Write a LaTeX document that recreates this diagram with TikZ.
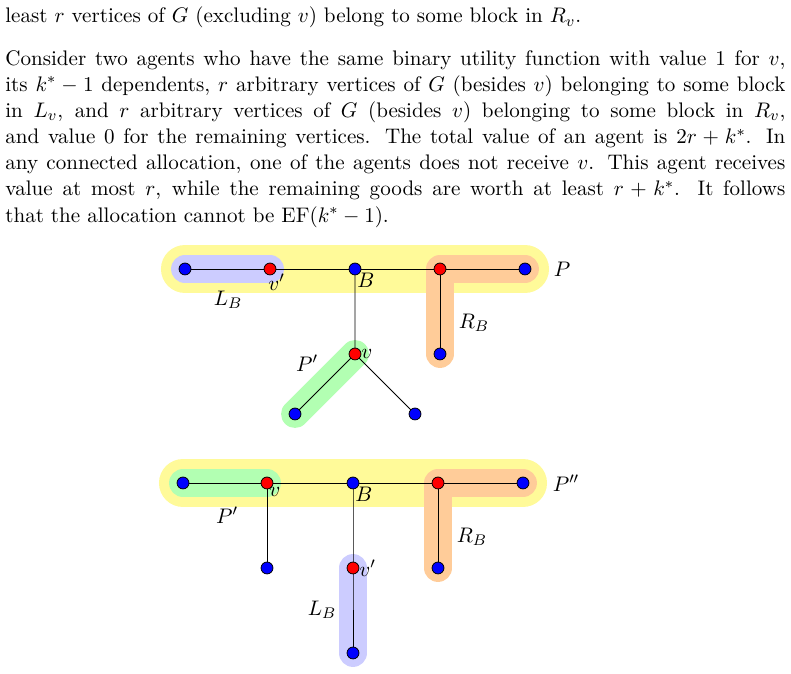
\documentclass[tikz,border=0pt,11pt]{standalone}
\usepackage{tikz}
\usetikzlibrary{positioning}

\tikzset{
  vred/.style={circle,draw=black,fill=red,inner sep=0pt,minimum size=6.2pt},
  vblue/.style={circle,draw=black,fill=blue,inner sep=0pt,minimum size=6.2pt},
  wide/.style={line width=25pt,line cap=round,line join=round},
  narrow/.style={line width=14.5pt,line cap=round,line join=round},
  lbl/.style={inner sep=1pt},
  txt/.style={inner sep=0pt,font=\fontsize{10.95pt}{13.6pt}\selectfont}
}

\begin{document}
\begin{tikzpicture}[x=0.52pt,y=-0.52pt]
\useasboundingbox (0,0) rectangle (791,674);
            % Text
\node[txt,anchor=base west] (l0) at (5,23) {least $r$ vertices of $G$ (excluding $v$) belong to some block in $R_v$.};
\node[txt,anchor=north west,text width=405.6pt,align=justify] (par) at (5,50)
{Consider two agents who have the same binary utility function with value 1 for $v$,\linebreak
its $k^*-1$ dependents, $r$ arbitrary vertices of $G$ (besides $v$) belonging to some block\linebreak
in $L_v$, and $r$ arbitrary vertices of $G$ (besides $v$) belonging to some block in $R_v$,\linebreak
and value 0 for the remaining vertices. The total value of an agent is $2r+k^*$. In\linebreak
any connected allocation, one of the agents does not receive $v$. This agent receives\linebreak
value at most $r$, while the remaining goods are worth at least $r+k^*$. It follows\linebreak
that the allocation cannot be EF$(k^*-1)$.};
            % Upper tree
\coordinate (a1) at (185,269);
\coordinate (a2) at (270,269);
\coordinate (a3) at (355,269);
\coordinate (a4) at (440,269);
\coordinate (a5) at (525,269);
\coordinate (a6) at (355,354);
\coordinate (a7) at (295,414);
\coordinate (a8) at (415,414);
\coordinate (a9) at (440,354);
%Blocks
\draw[wide,yellow!40] (a1) -- (a5);
\draw[narrow,blue!20] (a1) -- (a2);
\draw[narrow,orange!40] (a5) -- (a4) -- (a9);
\draw[narrow,green!30] (a6) -- (a7);
%Edges
\draw (a1) -- (a5);
\draw (a3) -- (a6) -- (a7);
\draw (a6) -- (a8);
\draw (a4) -- (a9);
%Vertices
\node[vblue] (u1) at (a1) {};
\node[vred]  (u2) at (a2) {};
\node[vblue] (u3) at (a3) {};
\node[vred]  (u4) at (a4) {};
\node[vblue] (u5) at (a5) {};
\node[vred]  (u6) at (a6) {};
\node[vblue] (u7) at (a7) {};
\node[vblue] (u8) at (a8) {};
\node[vblue] (u9) at (a9) {};
\node[lbl,anchor=north west] at (266,272) {$v'$};
\node[lbl,anchor=north west] at (355,271) {$B$};
\node[lbl,anchor=west] at (359,354) {$v$};
\node[lbl] at (228,300) {$L_B$};
\node[lbl] at (474,323) {$R_B$};
\node[lbl] at (562,269) {$P$};
\node[lbl] at (307,363) {$P'$};
            % Lower tree
\coordinate (b1) at (183,483);
\coordinate (b2) at (267,483);
\coordinate (b3) at (353,483);
\coordinate (b4) at (438,483);
\coordinate (b5) at (523,483);
\coordinate (b6) at (267,568);
\coordinate (b7) at (353,568);
\coordinate (b8) at (353,653);
\coordinate (b9) at (438,568);
%Blocks
\draw[wide,yellow!40] (b1) -- (b5);
\draw[narrow,green!30] (b1) -- (b2);
\draw[narrow,orange!40] (b5) -- (b4) -- (b9);
\draw[narrow,blue!20] (b7) -- (b8);
%Edges
\draw (b1) -- (b5);
\draw (b2) -- (b6);
\draw (b3) -- (b7) -- (b8);
\draw (b4) -- (b9);
%Vertices
\node[vblue] (w1) at (b1) {};
\node[vred]  (w2) at (b2) {};
\node[vblue] (w3) at (b3) {};
\node[vred]  (w4) at (b4) {};
\node[vblue] (w5) at (b5) {};
\node[vblue] (w6) at (b6) {};
\node[vred]  (w7) at (b7) {};
\node[vblue] (w8) at (b8) {};
\node[vblue] (w9) at (b9) {};
\node[lbl,anchor=north west] at (267,485) {$v$};
\node[lbl,anchor=north west] at (353,485) {$B$};
\node[lbl,anchor=west] at (357,568) {$v'$};
\node[lbl] at (227,515) {$P'$};
\node[lbl] at (472,537) {$R_B$};
\node[lbl] at (322,610) {$L_B$};
\node[lbl] at (566,483) {$P''$};
\end{tikzpicture}
\end{document}
